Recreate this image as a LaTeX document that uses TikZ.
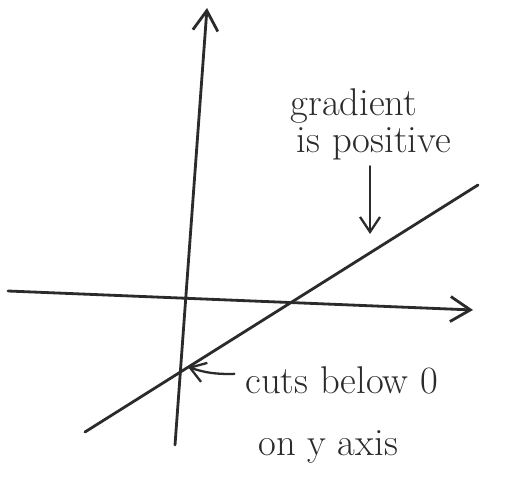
\documentclass[tikz,border=0pt]{standalone}
\usepackage{tikz}
\usetikzlibrary{arrows.meta,positioning}
\definecolor{pencil}{HTML}{2B2B2B}

\begin{document}
\begin{tikzpicture}[x=0.02cm,y=-0.02cm,
  stroke/.style={line width=1.6pt, draw=pencil, line cap=round},
  axis/.style={stroke, -{Straight Barb[length=4mm,width=5mm]}},
  pointer/.style={stroke, line width=1.3pt, -{Straight Barb[length=3mm,width=4mm]}},
  note/.style={anchor=base, font=\fontsize{22}{26}\selectfont, text=pencil, inner sep=0pt}
]
  \useasboundingbox (0,0) rectangle (507,479);
  % axes
  \coordinate (ybot) at (175,445);
  \coordinate (ytop) at (207,8);
  \coordinate (xleft) at (8,291);
  \coordinate (xright) at (473,310);
  \draw[axis] (ybot) -- (ytop);
  \draw[axis] (xleft) -- (xright);
  % the line
  \coordinate (lstart) at (85,432);
  \coordinate (lend) at (478,185);
  \coordinate (cross) at (188,367);
  \coordinate (onl) at (370,234);
  \draw[stroke] (lstart) -- (lend);
  % labels
  \node[note] (grad) at (354,116) {gradient};
  \node[note] (pos) at (374,153) {is positive};
  \node[note,anchor=base west] (cuts) at (245,394) {cuts below 0};
  \node[note,anchor=base west] (yaxis) at (258,455) {on y axis};
  \draw[pointer] ([yshift=-3pt]pos.south -| onl) -- (onl);
  \draw[pointer] ([xshift=-6pt,yshift=4pt]cuts.west) to[bend left=10] (cross);
\end{tikzpicture}
\end{document}
